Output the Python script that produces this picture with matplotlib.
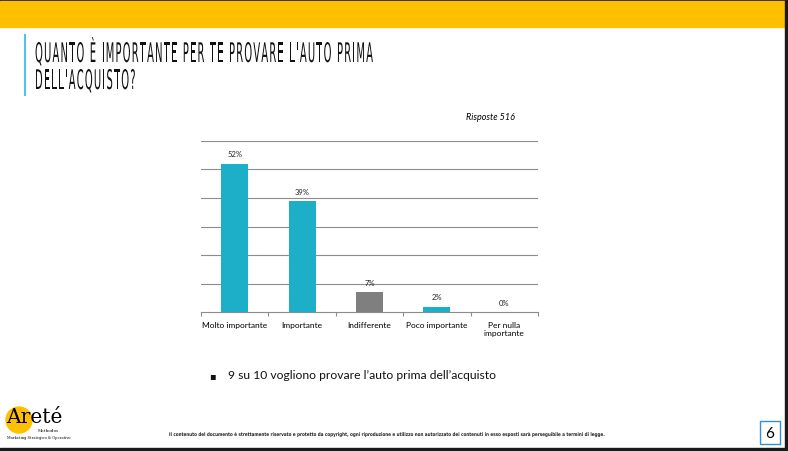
import matplotlib
matplotlib.use("Agg")
import matplotlib.pyplot as plt
import matplotlib.patches as patches
from matplotlib.textpath import TextPath
from matplotlib.font_manager import FontProperties
from matplotlib.transforms import Affine2D

# data
categories = ["Molto importante", "Importante", "Indifferente", "Poco importante", "Per nulla\nimportante"]
values = [52, 39, 7, 2, 0]
value_labels = ["52%", "39%", "7%", "2%", "0%"]
bar_colors = ["#1EAFC8", "#1EAFC8", "#7F7F7F", "#1EAFC8", "#1EAFC8"]

title_lines = ["QUANTO È IMPORTANTE PER TE PROVARE L'AUTO PRIMA", "DELL'ACQUISTO?"]
note = "Risposte 516"
bullet = "9 su 10 vogliono provare l\u2019auto prima dell\u2019acquisto"
footer = ("Il contenuto del documento è strettamente riservato e protetto da copyright, ogni riproduzione e utilizzo "
          "non autorizzato dei contenuti in esso esposti sarà perseguibile a termini di legge.")

body = "Lato"
W, H = 788, 452
fig = plt.figure(figsize=(W / 100, H / 100), dpi=100)
fig.patch.set_facecolor("white")

bg = fig.add_axes([0, 0, 1, 1])
bg.set_xlim(0, W)
bg.set_ylim(H, 0)
bg.axis("off")

FP = FontProperties(family="DejaVu Sans")
FPB = FontProperties(family="DejaVu Sans", weight="bold")
_adv = {}


def advance(ch, size):
    # glyph advance, measured with a trailing bar so spaces count
    if (ch, size) not in _adv:
        ref = TextPath((0, 0), "|", size=size, prop=FP).get_extents().x1
        _adv[(ch, size)] = TextPath((0, 0), ch + "|", size=size, prop=FP).get_extents().x1 - ref
    return _adv[(ch, size)]


def narrow_text(ax, x, y, s, size, xscale, spacing=0.0, color="black"):
    # condensed, tracked text drawn glyph by glyph (no narrow font installed)
    cx = x
    for ch in s:
        if ch != " ":
            tp = TextPath((0, 0), ch, size=size, prop=FP)
            tr = Affine2D().scale(xscale, -1).translate(cx, y)
            ax.add_patch(patches.PathPatch(tr.transform_path(tp), lw=0, color=color))
        cx += advance(ch, size) * xscale + spacing


# slide frame
bg.add_patch(patches.Rectangle((0, 0), W, 2, color="#1a1a1a"))
bg.add_patch(patches.Rectangle((0, 2), 785, 26, color="#FFC000"))
bg.add_patch(patches.Rectangle((785, 0), 3, H, color="#1a1a1a"))
bg.add_patch(patches.Rectangle((0, 449), W, 3, color="#1a1a1a"))
bg.plot([25, 25], [36, 96], color="#4FC3E8", lw=1.5)

# fit the first title line to its width in the slide
t_size, t_scale, t_width = 27, 0.37, 338
nat = sum(advance(c, t_size) for c in title_lines[0])
t_spacing = (t_width - nat * t_scale) / (len(title_lines[0]) - 1)
for i, line in enumerate(title_lines):
    narrow_text(bg, 35, 63 + i * 27, line, t_size, t_scale, t_spacing, color="#111111")

bg.text(515, 117, note, fontsize=6.5, style="italic", family=body, ha="right", va="center")

bg.text(212, 376, "\u25aa", fontsize=7, ha="center", va="center", color="#111111")
bg.text(228, 376, bullet, fontsize=8.7, family=body, ha="left", va="center", color="#111111")

# footer
bg.add_patch(patches.Circle((19, 421), 13, color="#FFC000", zorder=1))
bg.text(6, 418, "Areté", fontsize=14.5, family="DejaVu Serif", ha="left", va="center", zorder=2)
bg.text(59, 431, "Methodos", fontsize=3, family="DejaVu Serif", ha="right", va="center", zorder=2)
bg.text(7, 438, "Marketing Strategico & Operativo", fontsize=2.6, family="DejaVu Serif", ha="left",
        va="center", zorder=2)
fp_path = TextPath((0, 0), footer, size=5, prop=FPB)
f_scale = 435 / fp_path.get_extents().width
bg.add_patch(patches.PathPatch(Affine2D().scale(f_scale, -1).translate(169, 437).transform_path(fp_path),
                               lw=0, color="#222222"))
bg.add_patch(patches.Rectangle((760, 422), 20, 23, fill=False, edgecolor="#2F8FD8", lw=1))
bg.text(770, 434, "6", fontsize=11, family=body, ha="center", va="center")

# chart
x0, x1 = 201, 538
y_top, y_base = 141.7, 313.3
ax = fig.add_axes([x0 / W, 1 - y_base / H, (x1 - x0) / W, (y_base - y_top) / H])
ax.set_xlim(-0.5, len(categories) - 0.5)
ax.set_ylim(0, 60)
ax.bar(range(len(values)), values, width=0.4, color=bar_colors, zorder=3)
for i, (v, lab) in enumerate(zip(values, value_labels)):
    ax.annotate(lab, (i, v), xytext=(0, 7), textcoords="offset points", ha="center",
                va="center", fontsize=5.5, family=body, color="#222222")
ax.set_yticks(range(10, 61, 10))
ax.yaxis.grid(True, color="#8C8C8C", lw=0.8, zorder=0)
ax.tick_params(axis="y", length=0, labelleft=False)
ax.set_xticks([i - 0.5 for i in range(len(categories) + 1)])
ax.set_xticks(range(len(categories)), minor=True)
ax.set_xticklabels([], minor=False)
ax.set_xticklabels(categories, minor=True, fontsize=6, family=body, va="top")
ax.tick_params(axis="x", which="major", length=3, color="#8C8C8C", width=0.8)
ax.tick_params(axis="x", which="minor", length=0, pad=6)
for s in ["top", "right", "left"]:
    ax.spines[s].set_visible(False)
ax.spines["bottom"].set_color("#8C8C8C")
ax.spines["bottom"].set_linewidth(0.8)
ax.set_facecolor("none")

fig.savefig("out.png", dpi=100, facecolor="white")
